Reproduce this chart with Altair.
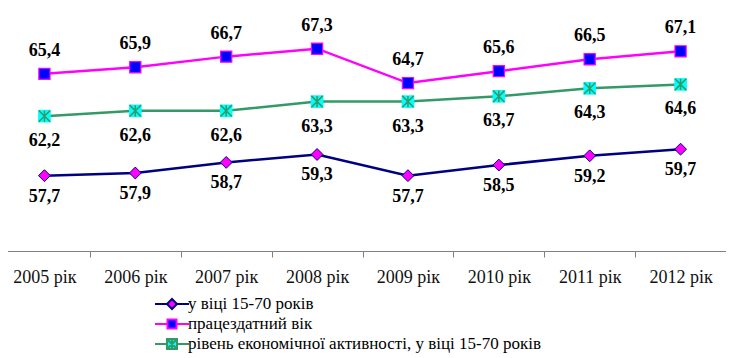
import altair as alt
import pandas as pd

years = ["2005 рік", "2006 рік", "2007 рік", "2008 рік", "2009 рік", "2010 рік", "2011 рік", "2012 рік"]
series_names = [
    "у віці 15-70 років",
    "працездатний вік",
    "рівень економічної активності, у віці 15-70 років",
]
age_15_70 = [57.7, 57.9, 58.7, 59.3, 57.7, 58.5, 59.2, 59.7]
working_age = [65.4, 65.9, 66.7, 67.3, 64.7, 65.6, 66.5, 67.1]
activity_rate = [62.2, 62.6, 62.6, 63.3, 63.3, 63.7, 64.3, 64.6]

line_colors = ["#000080", "#FF00FF", "#339966"]
marker_fills = ["#FF00FF", "#0000FF", "#00FFFF"]

rows = []
for name, vals in zip(series_names, [age_15_70, working_age, activity_rate]):
    for y, v in zip(years, vals):
        rows.append({"year": y, "series": name, "value": v})
df = pd.DataFrame(rows)

FONT = "Liberation Serif"

x_enc = alt.X(
    "year:N",
    sort=years,
    scale=alt.Scale(type="band", domain=years, range=[-9, 718], paddingInner=0, paddingOuter=0),
    axis=alt.Axis(
        title=None,
        labelAngle=0,
        tickBand="extent",
        tickSize=6,
        tickColor="#808080",
        domainColor="#808080",
        labelFont=FONT,
        labelFontSize=18,
        labelColor="#111111",
        labelPadding=11,
        grid=False,
    ),
)
y_enc = alt.Y("value:Q", scale=alt.Scale(domain=[52, 70], nice=False, zero=False), axis=None)

base = alt.Chart(df)

def sel(i):
    return base.transform_filter(alt.datum.series == series_names[i])

lines = [
    sel(i).mark_line(strokeWidth=2.5, color=line_colors[i]).encode(x=x_enc, y=y_enc)
    for i in range(3)
]

pts1 = sel(0).mark_point(shape="diamond", filled=True, size=140, fill=marker_fills[0],
                         stroke=line_colors[0], strokeWidth=1, opacity=1).encode(x=x_enc, y=y_enc)
pts2 = sel(1).mark_point(shape="square", filled=True, size=125, fill=marker_fills[1],
                         stroke=line_colors[1], strokeWidth=1.2, opacity=1).encode(x=x_enc, y=y_enc)
pts3a = sel(2).mark_point(shape="square", filled=True, size=160, fill=marker_fills[2],
                          strokeWidth=0, opacity=1).encode(x=x_enc, y=y_enc)
pts3b = sel(2).mark_point(shape="M-1,-1L1,1M1,-1L-1,1M0,-1L0,1", filled=False, size=130,
                          stroke=line_colors[2], strokeWidth=1.5, opacity=1).encode(x=x_enc, y=y_enc)

label_calc = "replace(format(datum.value, '.1f'), '.', ',')"
text_dy = [21, -23, 25]
texts = []
for i in range(3):
    texts.append(
        sel(i).transform_calculate(lbl=label_calc).mark_text(
            font=FONT, fontSize=18, fontWeight="bold", color="#000000", dy=text_dy[i]
        ).encode(x=x_enc, y=y_enc, text="lbl:N")
    )

legend_paths = [
    "M-1.7,0L-0.5,0M0.5,0L1.7,0M0,-0.5L0.5,0L0,0.5L-0.5,0Z",
    "M-1.7,0L-0.45,0M0.45,0L1.7,0M-0.45,-0.45L0.45,-0.45L0.45,0.45L-0.45,0.45Z",
    "M-1.7,0L-0.5,0M0.5,0L1.7,0M-0.5,-0.5L0.5,-0.5L0.5,0.5L-0.5,0.5ZM-0.5,-0.5L0.5,0.5M0.5,-0.5L-0.5,0.5M0,-0.5L0,0.5",
]
leg = alt.Legend(
    title=None,
    orient="none",
    legendX=153,
    legendY=280,
    symbolSize=400,
    symbolStrokeWidth=2,
    symbolOpacity=1,
    labelFont=FONT,
    labelFontSize=17,
    labelColor="#000000",
    labelOffset=5,
    labelLimit=600,
    rowPadding=0,
    padding=0,
)
legend_layer = base.transform_filter("false").mark_point(filled=True).encode(
    x=x_enc,
    y=y_enc,
    shape=alt.Shape("series:N", scale=alt.Scale(domain=series_names, range=legend_paths), legend=leg),
    fill=alt.Fill("series:N", scale=alt.Scale(domain=series_names, range=marker_fills), legend=leg),
    stroke=alt.Stroke("series:N", scale=alt.Scale(domain=series_names, range=line_colors), legend=leg),
)

chart = alt.layer(*lines, pts1, pts2, pts3a, pts3b, *texts, legend_layer).properties(
    width=718,
    height=238,
    padding={"left": 0, "top": 5, "right": 0, "bottom": 102},
    autosize=alt.AutoSizeParams(type="none"),
    background="white",
).configure(font=FONT).configure_view(stroke=None).configure_legend(
    labelFont=FONT,
    labelFontSize=17,
    labelColor="#000000",
    labelOffset=5,
    labelLimit=600,
    rowPadding=0,
    symbolSize=400,
    symbolStrokeWidth=2,
)

chart.save("out.html", embed_options={"renderer": "svg", "actions": False})
